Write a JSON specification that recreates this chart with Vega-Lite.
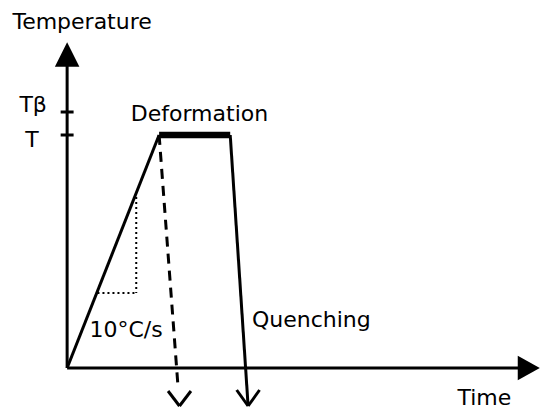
{
  "$schema": "https://vega.github.io/schema/vega-lite/v6.json",
  "width": 540,
  "height": 413,
  "autosize": {"type": "fit", "contains": "padding"},
  "padding": 0,
  "background": "white",
  "config": {"view": {"stroke": null}},
  "datasets": {
    "solid": [
      {"t0": 0, "v0": 0, "t1": 0, "v1": 302},
      {"t0": 0, "v0": 0, "t1": 454, "v1": 0},
      {"t0": -6.5, "v0": 256, "t1": 6.5, "v1": 256},
      {"t0": -6.5, "v0": 233, "t1": 6.5, "v1": 233},
      {"t0": 0, "v0": 0, "t1": 92.5, "v1": 233},
      {"t0": 164, "v0": 233, "t1": 182, "v1": -38},
      {"t0": 170.5, "v0": -22, "t1": 182, "v1": -38},
      {"t0": 182, "v0": -38, "t1": 193.5, "v1": -22},
      {"t0": 101.5, "v0": -23, "t1": 113, "v1": -38},
      {"t0": 113, "v0": -38, "t1": 124.5, "v1": -23}
    ],
    "plateau": [{"t0": 92.5, "v0": 233, "t1": 164, "v1": 233}],
    "dashed": [{"t0": 92.5, "v0": 233, "t1": 111.4, "v1": -17}],
    "dotted": [
      {"t0": 69.5, "v0": 171, "t1": 69.5, "v1": 75},
      {"t0": 30.5, "v0": 75, "t1": 69.5, "v1": 75}
    ],
    "arrows": [
      {"t": 0, "v": 313.5, "dir": "up"},
      {"t": 463, "v": 0, "dir": "right"}
    ],
    "labels": [
      {"t": -55, "v": 339.5, "text": "Temperature"},
      {"t": -48, "v": 256, "text": "Tβ"},
      {"t": -42, "v": 221, "text": "T"},
      {"t": 64, "v": 247, "text": "Deformation"},
      {"t": 22.5, "v": 31, "text": "10°C/s"},
      {"t": 185.8, "v": 41, "text": "Quenching"},
      {"t": 392.5, "v": -37, "text": "Time"}
    ]
  },
  "layer": [
    {
      "data": {"name": "solid"},
      "mark": {"type": "rule", "color": "black", "strokeWidth": 3},
      "encoding": {
        "x": {"field": "t0", "type": "quantitative", "scale": {"domain": [-67.5, 472.5], "nice": false, "zero": false}, "axis": null},
        "y": {"field": "v0", "type": "quantitative", "scale": {"domain": [-45, 368], "nice": false, "zero": false}, "axis": null},
        "x2": {"field": "t1"},
        "y2": {"field": "v1"}
      }
    },
    {
      "data": {"name": "plateau"},
      "mark": {"type": "rule", "color": "black", "strokeWidth": 6.5},
      "encoding": {
        "x": {"field": "t0", "type": "quantitative"},
        "y": {"field": "v0", "type": "quantitative"},
        "x2": {"field": "t1"},
        "y2": {"field": "v1"}
      }
    },
    {
      "data": {"name": "dashed"},
      "mark": {"type": "rule", "color": "black", "strokeWidth": 3, "strokeDash": [10, 7]},
      "encoding": {
        "x": {"field": "t0", "type": "quantitative"},
        "y": {"field": "v0", "type": "quantitative"},
        "x2": {"field": "t1"},
        "y2": {"field": "v1"}
      }
    },
    {
      "data": {"name": "dotted"},
      "mark": {"type": "rule", "color": "black", "strokeWidth": 2, "strokeDash": [2, 3]},
      "encoding": {
        "x": {"field": "t0", "type": "quantitative"},
        "y": {"field": "v0", "type": "quantitative"},
        "x2": {"field": "t1"},
        "y2": {"field": "v1"}
      }
    },
    {
      "data": {"name": "arrows"},
      "mark": {"type": "point", "filled": true, "color": "black", "opacity": 1, "size": 600},
      "encoding": {
        "x": {"field": "t", "type": "quantitative"},
        "y": {"field": "v", "type": "quantitative"},
        "shape": {"field": "dir", "type": "nominal", "legend": null, "scale": {"domain": ["up", "right"], "range": ["M0,-1L-1,1L1,1Z", "M1,0L-0.8,-1L-0.8,1Z"]}}
      }
    },
    {
      "data": {"name": "labels"},
      "mark": {"type": "text", "font": "DejaVu Sans", "fontSize": 22, "color": "black", "align": "left", "baseline": "alphabetic"},
      "encoding": {
        "x": {"field": "t", "type": "quantitative"},
        "y": {"field": "v", "type": "quantitative"},
        "text": {"field": "text"}
      }
    }
  ]
}
